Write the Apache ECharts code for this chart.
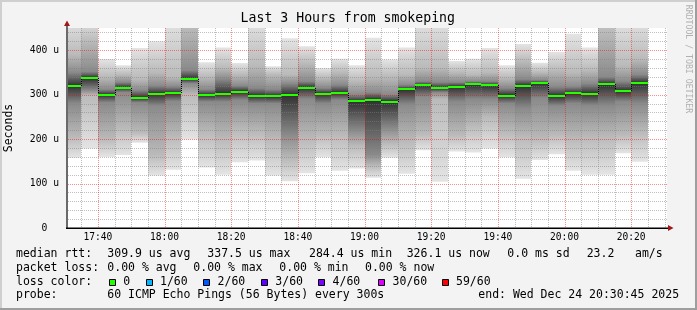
<!DOCTYPE html>
<html><head><meta charset="utf-8">
<script src="https://cdn.jsdelivr.net/npm/echarts@6/dist/echarts.min.js"></script>
<style>html,body{margin:0;padding:0;background:#f3f3f3}#c{width:697px;height:310px}</style>
</head><body><div id="c"></div>
<script>
// ---- data ----
const barEnds = ['17:35','17:40','17:45','17:50','17:55','18:00','18:05','18:10','18:15','18:20','18:25','18:30',
  '18:35','18:40','18:45','18:50','18:55','19:00','19:05','19:10','19:15','19:20','19:25','19:30','19:35','19:40',
  '19:45','19:50','19:55','20:00','20:05','20:10','20:15','20:20','20:25'];
// smoke envelope per 5-min step (microseconds): min, light edge, dark edge, median, dark edge, light edge, max
const pMin = [158,179,160,164,192,118,131,199,136,120,148,152,118,105,123,159,129,134,113,158,122,175,104,172,170,179,159,111,153,166,129,120,120,168,149];
const pLo2 = [205,298,200,225,215,165,205,300,215,200,220,215,200,155,200,210,210,185,140,190,195,212,290,210,230,250,215,205,200,210,200,205,205,210,216];
const pLo3 = [280,310,282,305,282,275,285,325,284,284,288,280,280,210,290,280,288,220,165,225,278,295,305,284,290,290,280,270,292,275,280,276,276,284,280];
const pMed = [320,337.5,300,316,293,302,303,336,299,302,307,297,296,300,316,302,304,285,289,284.4,312,321,315,318,323,321,298,320,326,297,303,302,323,308,326.1];
const pHi3 = [350,352,312,328,310,320,318,355,312,335,320,315,312,325,330,315,322,300,305,300,322,330,328,328,330,330,315,335,333,318,318,325,340,330,345];
const pHi2 = [390,420,340,345,335,350,340,450,340,360,345,365,345,345,370,338,350,330,340,340,345,360,360,350,345,350,338,375,350,355,350,355,440,365,380];
const pMax = [470,470,380,366,405,420,470,540,373,406,371,470,364,427,409,360,381,366,428,379,406,470,470,376,381,405,366,414,372,396,437,406,530,470,470];
const xTickLabels = ['17:40','18:00','18:20','18:40','19:00','19:20','19:40','20:00','20:20'];
const yTickLabels = {0:'0  ',100:'100 u',200:'200 u',300:'300 u',400:'400 u'};
const lossColors = ['#26ff00','#00b8ff','#0059ff','#5e00ff','#7e00ff','#dd00ff','#ff0000'];
const lossLabels = ['0','1/60','2/60','3/60','4/60','30/60','59/60'];
const statLines = [
  [[16,'median rtt:'],[107.3,'309.9 us avg'],[207.3,'337.5 us max'],[309,'284.4 us min'],[406.7,'326.1 us now'],[507.3,'0.0 ms sd'],[586.7,'23.2'],[635,'am/s']],
  [[16,'packet loss:'],[107.3,'0.00 % avg'],[193.3,'0.00 % max'],[279.3,'0.00 % min'],[365,'0.00 % now']],
  [[16,'loss color:']],
  [[16,'probe:'],[107.3,'60 ICMP Echo Pings (56 Bytes) every 300s'],[478.3,'end: Wed Dec 24 20:30:45 2025']]
];

// ---- helpers ----
function tm(hm){const p=hm.split(':').map(Number);return new Date(2025,11,24,p[0],p[1],p[2]||0).getTime();}
const startMs = tm('17:30:45'), endMs = tm('20:30:45');
const STEP = 300000;
const MONO = '"DejaVu Sans Mono", monospace';
function grey(v){v=Math.round(v);return 'rgb('+v+','+v+','+v+')';}
function dotPattern(w,h,color){const c=document.createElement('canvas');c.width=w;c.height=h;const g=c.getContext('2d');g.fillStyle=color;g.fillRect(0,0,1,1);return {image:c,repeat:'repeat'};}
const minorV=dotPattern(1,2,'rgba(128,128,128,0.5)'), minorH=dotPattern(2,1,'rgba(128,128,128,0.5)');
const majorV=dotPattern(1,2,'rgba(255,0,0,0.45)'), majorH=dotPattern(2,1,'rgba(255,0,0,0.45)');

const chart = echarts.init(document.getElementById('c'), null, {renderer:'canvas'});

const smokeData = barEnds.map((e,i)=>[tm(e),pMin[i],pLo2[i],pLo3[i],pMed[i],pHi3[i],pHi2[i],pMax[i]]);
const medData = barEnds.map((e,i)=>[tm(e),pMed[i], i>0?pMed[i-1]:pMed[i]]);
const shades = [228,186,138,48,138,186,228];

const majorTimes=xTickLabels.map(s=>tm(s)), minorTimes=[];
for(let t=tm('17:35');t<=endMs;t+=STEP){ if(majorTimes.indexOf(t)<0) minorTimes.push(t); }
const minorVals=[], majorVals=[100,200,300,400];
for(let v=20;v<450;v+=20){ if(v%100!==0) minorVals.push(v); }

const graphics = [
  {type:'rect',shape:{x:0,y:0,width:697,height:2},style:{fill:'#cfcfcf'},silent:true},
  {type:'rect',shape:{x:0,y:0,width:2,height:310},style:{fill:'#cfcfcf'},silent:true},
  {type:'rect',shape:{x:0,y:308,width:697,height:2},style:{fill:'#9e9e9e'},silent:true},
  {type:'rect',shape:{x:695,y:0,width:2,height:310},style:{fill:'#9e9e9e'},silent:true},
  {type:'text',x:347.8,y:18.7,style:{text:'Last 3 Hours from smokeping',font:'13.2px '+MONO,fill:'#000',align:'center',verticalAlign:'middle'},silent:true},
  {type:'text',x:9.5,y:128,rotation:Math.PI/2,style:{text:'Seconds',font:'11.5px '+MONO,fill:'#000',align:'center',verticalAlign:'middle'},silent:true},
  {type:'text',x:688.5,y:59,rotation:-Math.PI/2,style:{text:'RRDTOOL / TOBI OETIKER',font:'8.2px '+MONO,fill:'#b0b0b0',align:'center',verticalAlign:'middle'},silent:true},
  {type:'rect',shape:{x:66,y:24,width:2,height:205},style:{fill:'#6a6a6a'},silent:true,z:10},
  {type:'rect',shape:{x:66,y:227.5,width:604,height:1.5},style:{fill:'#000'},silent:true,z:10},
  {type:'polygon',shape:{points:[[64,26],[70,26],[67,20.5]]},style:{fill:'#a01818'},silent:true,z:10},
  {type:'polygon',shape:{points:[[668,225],[668,231],[673.5,228]]},style:{fill:'#a01818'},silent:true,z:10}
];
const lineYs=[254.5,268,282,295.5];
statLines.forEach((ln,li)=>ln.forEach(p=>graphics.push({type:'text',x:p[0],y:lineYs[li],style:{text:p[1],font:'11.5px '+MONO,fill:'#000',align:'left',verticalAlign:'middle'},silent:true})));
const boxX=[109,145.7,203.3,261,318.3,378.3,441.7];
lossColors.forEach((c,i)=>{
  graphics.push({type:'rect',shape:{x:Math.round(boxX[i])+0.5,y:279.5,width:6,height:6},style:{fill:c,stroke:'#000',lineWidth:1},silent:true});
  graphics.push({type:'text',x:boxX[i]+14.3,y:lineYs[2],style:{text:lossLabels[i],font:'11.5px '+MONO,fill:'#000',align:'left',verticalAlign:'middle'},silent:true});
});

function gridSeries(name,times,vals,patV,patH,z,withLabels){
  return {type:'custom',name:name,z:z,silent:true,data:[[startMs,0]],
    renderItem:function(params,api){
      const cs=params.coordSys,ch=[];
      times.forEach(t=>{const x=Math.round(api.coord([t,0])[0]);
        ch.push({type:'rect',shape:{x:x,y:cs.y,width:1,height:cs.height},style:{fill:patV}});});
      vals.forEach(v=>{const y=Math.round(api.coord([startMs,v])[1]);
        ch.push({type:'rect',shape:{x:cs.x,y:y,width:cs.width,height:1},style:{fill:patH}});});
      if(withLabels){times.forEach((t,i)=>{const x=api.coord([t,0])[0];
        ch.push({type:'text',x:x,y:cs.y+cs.height+9.5,style:{text:xTickLabels[i],font:'9.6px '+MONO,fill:'#000',align:'center',verticalAlign:'middle'}});});}
      return {type:'group',children:ch};
    }};
}

chart.setOption({
  backgroundColor:'#f3f3f3',
  animation:false,
  grid:{left:67,top:28,width:600,height:200,show:true,backgroundColor:'#ffffff',borderWidth:0,containLabel:false},
  xAxis:{type:'time',min:startMs,max:endMs,
    axisLine:{show:false},axisTick:{show:false},splitLine:{show:false},axisLabel:{show:false}},
  yAxis:{type:'value',min:0,max:450,interval:100,
    axisLine:{show:false},axisTick:{show:false},splitLine:{show:false},
    axisLabel:{margin:8,color:'#000',fontFamily:MONO,fontSize:9.7,formatter:function(v){return yTickLabels[v]!==undefined?yTickLabels[v]:'';}}},
  graphic:graphics,
  series:[
    {type:'custom',name:'smoke',z:2,silent:true,data:smokeData,encode:{x:0,y:[1,7]},
     renderItem:function(params,api){
       const end=api.value(0),start=end-STEP;
       const vals=[1,2,3,4,5,6,7].map(k=>api.value(k));
       const xL=Math.round(api.coord([start,0])[0]),xR=Math.round(api.coord([end,0])[0]);
       const yBot=api.coord([end,vals[0]])[1],yTop=api.coord([end,vals[6]])[1];
       const h=yBot-yTop;
       const stops=[];
       for(let k=6;k>=0;k--){const y=api.coord([end,vals[k]])[1];stops.push({offset:Math.min(1,Math.max(0,(y-yTop)/h)),color:grey(shades[k])});}
       const grad=new echarts.graphic.LinearGradient(0,yTop,0,yBot,stops,true);
       const cs=params.coordSys;
       const r=echarts.graphic.clipRectByRect({x:xL,y:yTop,width:xR-xL,height:h},{x:cs.x,y:cs.y,width:cs.width,height:cs.height});
       if(!r) return null;
       return {type:'rect',shape:r,style:{fill:grad}};
     }},
    gridSeries('minorGrid',minorTimes,minorVals,minorV,minorH,3,false),
    gridSeries('majorGrid',majorTimes,majorVals,majorV,majorH,3.5,true),
    {type:'custom',name:'median',z:4,silent:true,data:medData,encode:{x:0,y:1},
     renderItem:function(params,api){
       const end=api.value(0),start=end-STEP,cs=params.coordSys;
       const xL=Math.round(api.coord([start,0])[0]),xR=Math.round(api.coord([end,0])[0]);
       const y=Math.round(api.coord([end,api.value(1)])[1]);
       const yp=Math.round(api.coord([end,api.value(2)])[1]);
       const x0=Math.max(xL,cs.x);
       const ch=[];
       if(params.dataIndex>0&&yp!==y){ch.push({type:'line',shape:{x1:xL+0.5,y1:yp,x2:xL+0.5,y2:y},style:{stroke:'#000',lineWidth:1,lineDash:[1,1]}});}
       ch.push({type:'rect',shape:{x:x0,y:y-1,width:xR-x0,height:2},style:{fill:'#26ff00'}});
       return {type:'group',children:ch};
     }}
  ]
});
</script></body></html>
